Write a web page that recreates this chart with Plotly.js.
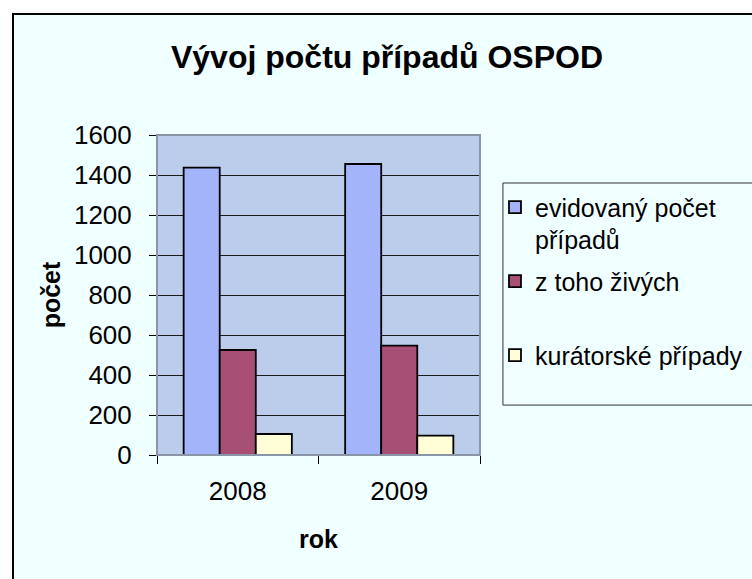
<!DOCTYPE html>
<html>
<head>
<meta charset="utf-8">
<script src="https://cdn.plot.ly/plotly-3.0.1.min.js"></script>
<style>
  html, body { margin: 0; padding: 0; background: #ffffff; overflow: hidden; width: 752px; height: 579px; }
  #chart { position: absolute; left: 12px; top: 13px; width: 760px; height: 580px;
           border-left: 2px solid #000; border-top: 2px solid #000; background: #F0FFFF; }
</style>
</head>
<body>
<div id="chart"></div>
<script>
// Data
var years = ['2008', '2009'];
var seriesNames = ['evidovaný počet<br>případů', 'z toho živých<br> ', 'kurátorské případy<br> '];
var evidovany = [1437, 1455];
var zivych = [525, 547];
var kuratorske = [105, 97];
var yTicks = [0, 200, 400, 600, 800, 1000, 1200, 1400, 1600];

var colors = ['#A4B4FA', '#A84F76', '#FFFDD6'];
var values = [evidovany, zivych, kuratorske];

var traces = values.map(function (v, i) {
  return {
    type: 'bar',
    x: years,
    y: v,
    name: seriesNames[i],
    legendgroup: 'g' + i,
    marker: { color: colors[i], line: { color: '#000', width: 1.8 } },
    hoverinfo: 'x+y'
  };
});

var font = 'Liberation Sans, Arial, sans-serif';

var layout = {
  width: 760,
  height: 580,
  margin: { l: 143, r: 294, t: 120, b: 140, pad: 0 },
  paper_bgcolor: '#F0FFFF',
  plot_bgcolor: '#BCCDEB',
  font: { family: font, size: 25, color: '#000' },
  barmode: 'group',
  bargap: 0.33,
  bargroupgap: 0,
  showlegend: true,
  title: {
    text: 'Vývoj počtu případů OSPOD',
    font: { family: font, size: 32, weight: 'bold', color: '#000' },
    x: 373 / 760, xref: 'container', xanchor: 'center',
    y: 1 - 42 / 580, yref: 'container', yanchor: 'middle'
  },
  xaxis: {
    type: 'category',
    showline: true, linecolor: '#000', linewidth: 1,
    ticks: 'outside', ticklen: 8, tickcolor: '#000', tickwidth: 1,
    tickson: 'boundaries',
    ticklabelstandoff: 13,
    showgrid: false,
    tickfont: { family: font, size: 26 },
    title: { text: 'rok', font: { family: font, size: 25, weight: 'bold' }, standoff: 25 }
  },
  yaxis: {
    range: [0, 1600],
    tickvals: yTicks,
    ticktext: yTicks.map(String),
    showline: true, linecolor: '#000', linewidth: 1,
    ticks: 'outside', ticklen: 7, tickcolor: '#000', tickwidth: 1,
    ticklabelstandoff: 12,
    showgrid: true, gridcolor: '#1a1a1a', gridwidth: 1,
    zeroline: false,
    tickfont: { family: font, size: 26 },
    title: { text: 'počet', font: { family: font, size: 25, weight: 'bold' }, standoff: 6 }
  },
  legend: {
    x: 1.0464, xanchor: 'left',
    y: 0.846, yanchor: 'top',
    bgcolor: 'rgba(0,0,0,0)',
    borderwidth: 0,
    font: { family: font, size: 25, color: '#000' },
    valign: 'top',
    traceorder: 'grouped',
    tracegroupgap: 6
  },
  shapes: [
    { type: 'rect', xref: 'paper', yref: 'paper', x0: 0, x1: 1, y0: 0, y1: 1,
      line: { color: '#8A96A8', width: 2 }, layer: 'above' },
    { type: 'rect', xref: 'paper', yref: 'paper', x0: 1.071, x1: 2.2, y0: 0.156, y1: 0.85,
      line: { color: '#333333', width: 1 }, layer: 'above' }
  ]
};

Plotly.newPlot('chart', traces, layout, { displayModeBar: false, staticPlot: true });
</script>
</body>
</html>
